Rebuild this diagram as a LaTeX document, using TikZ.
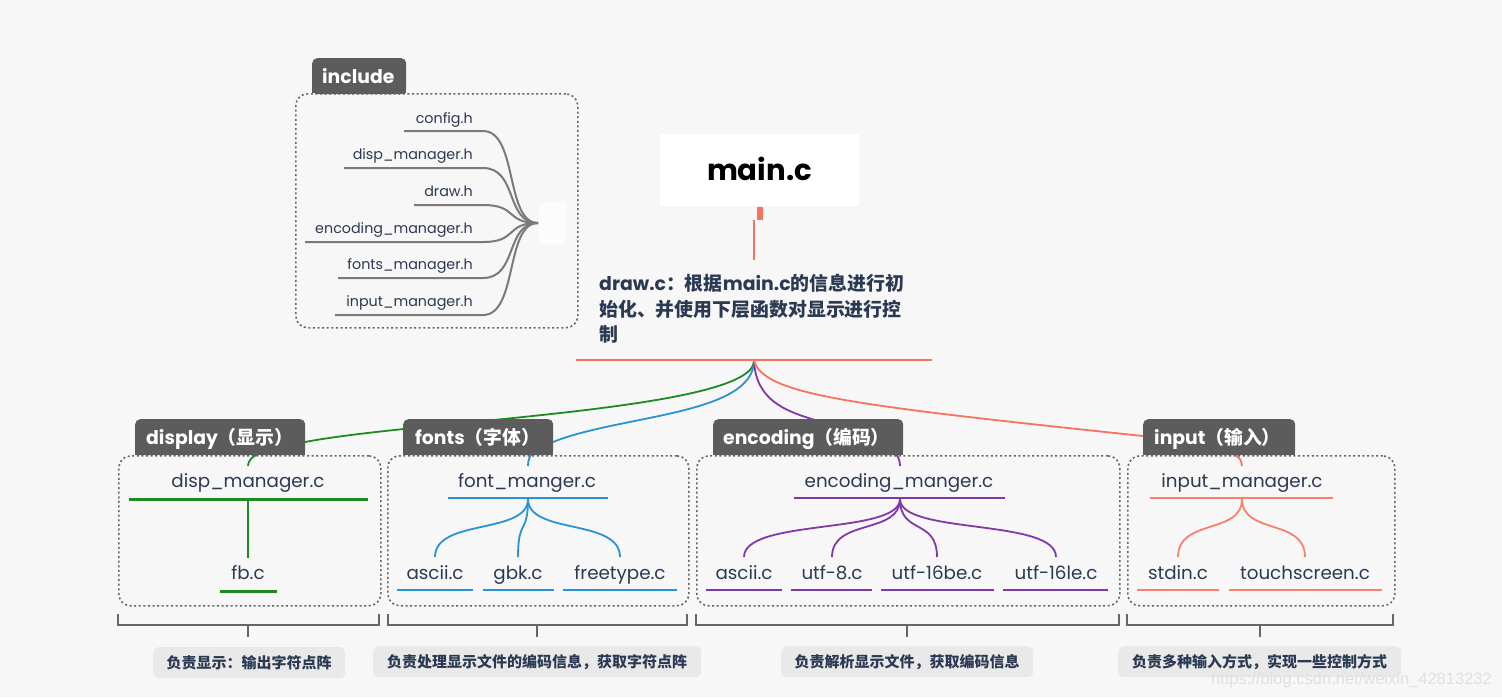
\documentclass[tikz,border=0pt]{standalone}
\usepackage{fontspec}
\setmainfont{Poppins}
\newfontfamily\cjk{Noto Sans CJK SC}
\newfontfamily\wmfont{Liberation Sans}
\newcommand\zh[1]{{\cjk #1}}
\definecolor{bg}{HTML}{F7F7F7}
\definecolor{tabgray}{HTML}{5C5C5C}
\definecolor{dotgray}{HTML}{666666}
\definecolor{navy}{HTML}{2B3A52}
\definecolor{mainred}{HTML}{F7725F}
\definecolor{inred}{HTML}{F8806D}
\definecolor{dgreen}{HTML}{1E8A22}
\definecolor{dblue}{HTML}{2A93D5}
\definecolor{dpurple}{HTML}{8338A8}
\definecolor{incgray}{HTML}{7A7A7A}
\definecolor{notefill}{HTML}{E9E9E9}
\definecolor{brgray}{HTML}{666666}
\tikzset{
  grpbox/.style={draw=dotgray, line width=1.6pt, dash pattern=on 2pt off 2.6pt, rounded corners=12pt, anchor=north west, inner sep=0},
  tabbox/.style={fill=tabgray, rounded corners=5pt, anchor=north west, minimum height=36, inner sep=0},
  tabtxt/.style={text=white, font=\bfseries\fontsize{18.8}{22}\selectfont, anchor=base west, inner sep=0},
  lbl/.style={text=navy, font=\fontsize{18.3}{21}\selectfont, anchor=base, inner sep=0},
  inc/.style={text=navy, font=\fontsize{14.3}{17}\selectfont, anchor=base east, inner sep=0},
  notebox/.style={fill=notefill, rounded corners=6pt, anchor=north west, inner sep=0},
  notetxt/.style={text=navy, font=\cjk\bfseries\fontsize{15}{18}\selectfont, inner sep=0},
  drawtxt/.style={text=navy, font=\bfseries\fontsize{18.9}{22}\selectfont, anchor=base west, inner sep=0},
  bracket/.style={draw=brgray, line width=2pt},
  conn/.style={line width=1.8pt},
  uline/.style={line width=2.4pt},
}
\begin{document}
\begin{tikzpicture}[x=1pt,y=-1pt]
\useasboundingbox (0,0) rectangle (1502,697);
\fill[bg] (0,0) rectangle (1502,697);

% ---------- include ----------
\node[grpbox, minimum width=282, minimum height=234] (incbox) at (295,93) {};
\fill[tabgray] (312,80) rectangle (406,93);
\node[tabbox, minimum width=94] (inctab) at (312,58) {};
\node[tabtxt] (inctxt) at (322,83) {include};
\node[fill=white!60!bg, rounded corners=4pt, minimum width=27, minimum height=42, inner sep=0] (hub0) at (552.5,223) {};
\coordinate (inchub) at (538,223);
\foreach \name/\txt/\yb/\yl/\xl in {
  i1/config.h/123/131/404,
  i2/disp\_manager.h/159/168/344,
  i3/draw.h/196/205/414,
  i4/encoding\_manager.h/233/242/305,
  i5/fonts\_manager.h/269/278/338,
  i6/input\_manager.h/306/315/335}{
  \node[inc] (\name) at (473,\yb) {\txt};
  \coordinate (\name L) at (\xl,\yl);
  \coordinate (\name R) at (483,\yl);
  \draw[incgray, line width=2pt] (\name L) -- (\name R) .. controls (518,\yl) and (505,223) .. (inchub);
}

% ---------- main.c ----------
\node[fill=white, minimum width=199, minimum height=72, inner sep=0, anchor=north west] (mainbox) at (660,134) {};
\node[font=\bfseries\fontsize{29.2}{34}\selectfont, anchor=base, inner sep=0] (maintxt) at (759.5,180) {main.c};
\node[fill=mainred, minimum width=6, minimum height=13, inner sep=0, anchor=north west] (mainstub) at (757,207) {};
\coordinate (mline1) at (754,220);
\coordinate (mline2) at (754,260);
\draw[mainred, line width=2pt] (mline1) -- (mline2);

% ---------- draw.c ----------
\node[drawtxt] (d1) at (599,290) {draw.c\zh{：根据}main.c\zh{的信息进行初}};
\node[drawtxt] (d2) at (599,316) {\zh{始化、并使用下层函数对显示进行控}};
\node[drawtxt] (d3) at (599,341) {\zh{制}};
\coordinate (dL) at (576,360);
\coordinate (dR) at (932,360);
\coordinate (hub) at (754,361);

% ---------- main branches (drawn under tabs) ----------
\draw[dgreen, conn] (hub) .. controls (753,410) and (420,420) .. (305,442) .. controls (262,449) and (248,456) .. (248,466);
\draw[dblue, conn] (hub) .. controls (753,415) and (620,415) .. (553,442) .. controls (535,449) and (528,453) .. (528,466);
\draw[dpurple, conn] (hub) .. controls (756,400) and (785,411) .. (815,420) .. controls (880,440) and (900,448) .. (900,466);
\draw[mainred, conn] (hub) .. controls (765,395) and (850,405) .. (1143,436) .. controls (1222,445) and (1242,452) .. (1242,466);
\draw[mainred, line width=2pt] (dL) -- (dR);

% ---------- group boxes ----------
\node[grpbox, minimum width=262, minimum height=150] (boxD) at (118,455) {};
\node[grpbox, minimum width=301, minimum height=150] (boxF) at (387,455) {};
\node[grpbox, minimum width=423, minimum height=150] (boxE) at (696,455) {};
\node[grpbox, minimum width=267, minimum height=150] (boxI) at (1127,455) {};

% tabs
\fill[tabgray] (135,442) rectangle (305,455);
\node[tabbox, minimum width=170] (tabD) at (135,419) {};
\node[tabtxt] (tabDt) at (146,444) {display\zh{（显示）}};
\fill[tabgray] (403,442) rectangle (553,455);
\node[tabbox, minimum width=150] (tabF) at (403,419) {};
\node[tabtxt] (tabFt) at (415,444) {fonts\zh{（字体）}};
\fill[tabgray] (713,442) rectangle (903,455);
\node[tabbox, minimum width=190] (tabE) at (713,419) {};
\node[tabtxt] (tabEt) at (723,444) {encoding\zh{（编码）}};
\fill[tabgray] (1143,442) rectangle (1295,455);
\node[tabbox, minimum width=152] (tabI) at (1143,419) {};
\node[tabtxt] (tabIt) at (1154,444) {input\zh{（输入）}};

% ---------- display ----------
\node[lbl] (dm) at (248,487) {disp\_manager.c};
\draw[dgreen, line width=3pt] (129,499) -- (368,499);
\coordinate (dmP) at (248,499);
\coordinate (fbT) at (248,558);
\draw[dgreen, line width=2.2pt] (dmP) -- (fbT);
\node[lbl] (fb) at (248,579) {fb.c};
\draw[dgreen, line width=3pt] (220,591) -- (277,591);

% ---------- fonts ----------
\node[lbl] (fm) at (527,487) {font\_manger.c};
\draw[dblue, uline] (448,498) -- (608,498);
\coordinate (fmP) at (528,499);
\foreach \n/\t/\cx/\a/\b in {fa/ascii.c/435/397/473, fg/gbk.c/518/483/554, ff/freetype.c/620/563/677}{
  \node[lbl] (\n) at (\cx,579) {\t};
  \coordinate (\n T) at (\cx,557);
  \draw[dblue, conn] (fmP) .. controls (528,535) and (\cx,518) .. (\n T);
  \draw[dblue, uline] (\a,590) -- (\b,590);
}

% ---------- encoding ----------
\node[lbl] (em) at (899,487) {encoding\_manger.c};
\draw[dpurple, uline] (794,498) -- (1005,498);
\coordinate (emP) at (900,499);
\foreach \n/\t/\cx/\a/\b in {ea/ascii.c/744/706/782, e8/utf-8.c/832/791/872, eb/utf-16be.c/937/881/994, el/utf-16le.c/1056/1003/1108}{
  \node[lbl] (\n) at (\cx,579) {\t};
  \coordinate (\n T) at (\cx,557);
  \draw[dpurple, conn] (emP) .. controls (900,535) and (\cx,518) .. (\n T);
  \draw[dpurple, uline] (\a,590) -- (\b,590);
}

% ---------- input ----------
\node[lbl] (im) at (1242,487) {input\_manager.c};
\draw[inred, uline] (1150,498) -- (1333,498);
\coordinate (imP) at (1242,499);
\foreach \n/\t/\cx/\a/\b in {is/stdin.c/1178/1137/1219, it/touchscreen.c/1305/1229/1382}{
  \node[lbl] (\n) at (\cx,579) {\t};
  \coordinate (\n T) at (\cx,557);
  \draw[inred, conn] (imP) .. controls (1242,535) and (\cx,518) .. (\n T);
  \draw[inred, uline] (\a,590) -- (\b,590);
}

% ---------- brackets ----------
\foreach \n/\a/\b/\m in {bD/118/379/248, bF/388/687/537, bE/696/1119/907, bI/1127/1393/1260}{
  \coordinate (\n1) at (\a,614);
  \coordinate (\n2) at (\b,614);
  \coordinate (\n m) at (\m,625);
  \coordinate (\n t) at (\m,637);
  \draw[bracket] (\n1) -- (\a,625) -- (\b,625) -- (\n2);
  \draw[bracket] (\n m) -- (\n t);
}

% ---------- notes ----------
\node[notebox, minimum width=192, minimum height=31] (nD) at (153,647) {};
\node[notetxt] (nDt) at (nD.center) {负责显示：输出字符点阵};
\node[notebox, minimum width=328, minimum height=31] (nF) at (373,646) {};
\node[notetxt] (nFt) at (nF.center) {负责处理显示文件的编码信息，获取字符点阵};
\node[notebox, minimum width=252, minimum height=31] (nE) at (781,646) {};
\node[notetxt] (nEt) at (nE.center) {负责解析显示文件，获取编码信息};
\node[notebox, minimum width=283, minimum height=31] (nI) at (1118,646) {};
\node[notetxt] (nIt) at (nI.center) {负责多种输入方式，实现一些控制方式};

% ---------- watermark ----------
\node[text=black!12, font=\wmfont\fontsize{16.5}{18}\selectfont, anchor=base east, inner sep=0] (wm) at (1492,684) {https://blog.csdn.net/weixin\_42813232};
\end{tikzpicture}
\end{document}
